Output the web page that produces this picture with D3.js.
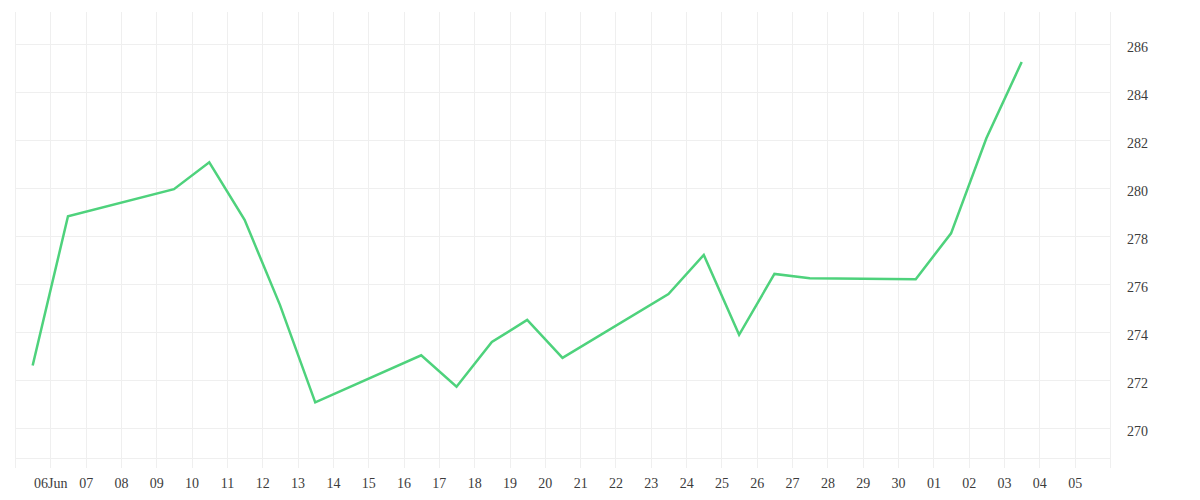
<!DOCTYPE html>
<html>
<head>
<meta charset="utf-8">
<script src="https://cdn.jsdelivr.net/npm/d3@7/dist/d3.min.js"></script>
<style>
  html, body { margin: 0; padding: 0; background: #ffffff; }
  svg { display: block; }
  text { font-family: "Liberation Serif", "DejaVu Serif", serif; }
</style>
</head>
<body>
<svg id="chart" width="1200" height="500"></svg>
<script>
// Data (dates at noon)
const dates = [
  "2025-06-05", "2025-06-06", "2025-06-09", "2025-06-10", "2025-06-11",
  "2025-06-12", "2025-06-13", "2025-06-16", "2025-06-17", "2025-06-18",
  "2025-06-19", "2025-06-20", "2025-06-23", "2025-06-24", "2025-06-25",
  "2025-06-26", "2025-06-27", "2025-06-30", "2025-07-01", "2025-07-02",
  "2025-07-03"
];
const values = [
  272.60, 278.82, 279.95, 281.07, 278.67,
  275.13, 271.07, 273.03, 271.72, 273.58,
  274.50, 272.92, 275.58, 277.21, 273.88,
  276.42, 276.24, 276.20, 278.11, 282.07,
  285.25
];
const yTicks = [270, 272, 274, 276, 278, 280, 282, 284, 286];
const xDomain = ["2025-06-05", "2025-07-06"];
const yDomain = [268.75, 287.33];

const parse = d3.utcParse("%Y-%m-%d");
const data = dates.map((d, i) => ({ date: d3.utcHour.offset(parse(d), 12), value: values[i] }));

const svg = d3.select("#chart");
const mLeft = 15, mRight = 1110, mTop = 12, mBottom = 458;

const x = d3.scaleUtc().domain(xDomain.map(parse)).range([mLeft, mRight]);
const y = d3.scaleLinear().domain(yDomain).range([mBottom, mTop]);

const gridColor = "#efefef";
const textColor = "#3c3c3c";

// Day ticks
const dayTicks = d3.utcDay.range(parse(xDomain[0]), parse(xDomain[1]));

// Vertical grid lines
svg.append("g").selectAll("line").data(dayTicks).join("line")
  .attr("x1", d => Math.round(x(d)) + 0.5).attr("x2", d => Math.round(x(d)) + 0.5)
  .attr("y1", mTop).attr("y2", mBottom + 10)
  .attr("stroke", gridColor).attr("stroke-width", 1);

// Horizontal grid lines
svg.append("g").selectAll("line").data(yTicks).join("line")
  .attr("x1", mLeft).attr("x2", mRight)
  .attr("y1", d => Math.round(y(d)) + 0.5).attr("y2", d => Math.round(y(d)) + 0.5)
  .attr("stroke", gridColor).attr("stroke-width", 1);

// Bottom boundary line
svg.append("line")
  .attr("x1", mLeft).attr("x2", mRight)
  .attr("y1", mBottom + 0.5).attr("y2", mBottom + 0.5)
  .attr("stroke", gridColor).attr("stroke-width", 1);

// Right axis line
svg.append("line")
  .attr("x1", mRight + 0.5).attr("x2", mRight + 0.5)
  .attr("y1", mTop).attr("y2", mBottom + 10)
  .attr("stroke", gridColor).attr("stroke-width", 1);

// X axis labels
const xAxis = d3.axisBottom(x)
  .tickValues(dayTicks.slice(1))
  .tickSize(0)
  .tickPadding(0)
  .tickFormat((d, i) => i === 0 ? d3.utcFormat("%d%b")(d) : d3.utcFormat("%d")(d));
const gx = svg.append("g").attr("transform", `translate(0,${mBottom})`).call(xAxis);
gx.select(".domain").remove();
gx.selectAll("text")
  .attr("y", 30).attr("dy", null)
  .attr("fill", textColor)
  .style("font-size", "14px")
  .style("font-family", "'Liberation Serif', serif");

// Y axis labels (right)
const yAxis = d3.axisRight(y).tickValues(yTicks).tickSize(0).tickPadding(17).tickFormat(d3.format("d"));
const gy = svg.append("g").attr("transform", `translate(${mRight},0)`).call(yAxis);
gy.select(".domain").remove();
gy.selectAll("text")
  .attr("dy", "0.55em")
  .attr("fill", textColor)
  .style("font-size", "14px")
  .style("font-family", "'Liberation Serif', serif");

// Line
const line = d3.line().x(d => x(d.date)).y(d => y(d.value));
svg.append("path").datum(data)
  .attr("d", line)
  .attr("fill", "none")
  .attr("stroke", "#4ed27c")
  .attr("stroke-width", 2.5)
  .attr("stroke-linejoin", "miter");
</script>
</body>
</html>
